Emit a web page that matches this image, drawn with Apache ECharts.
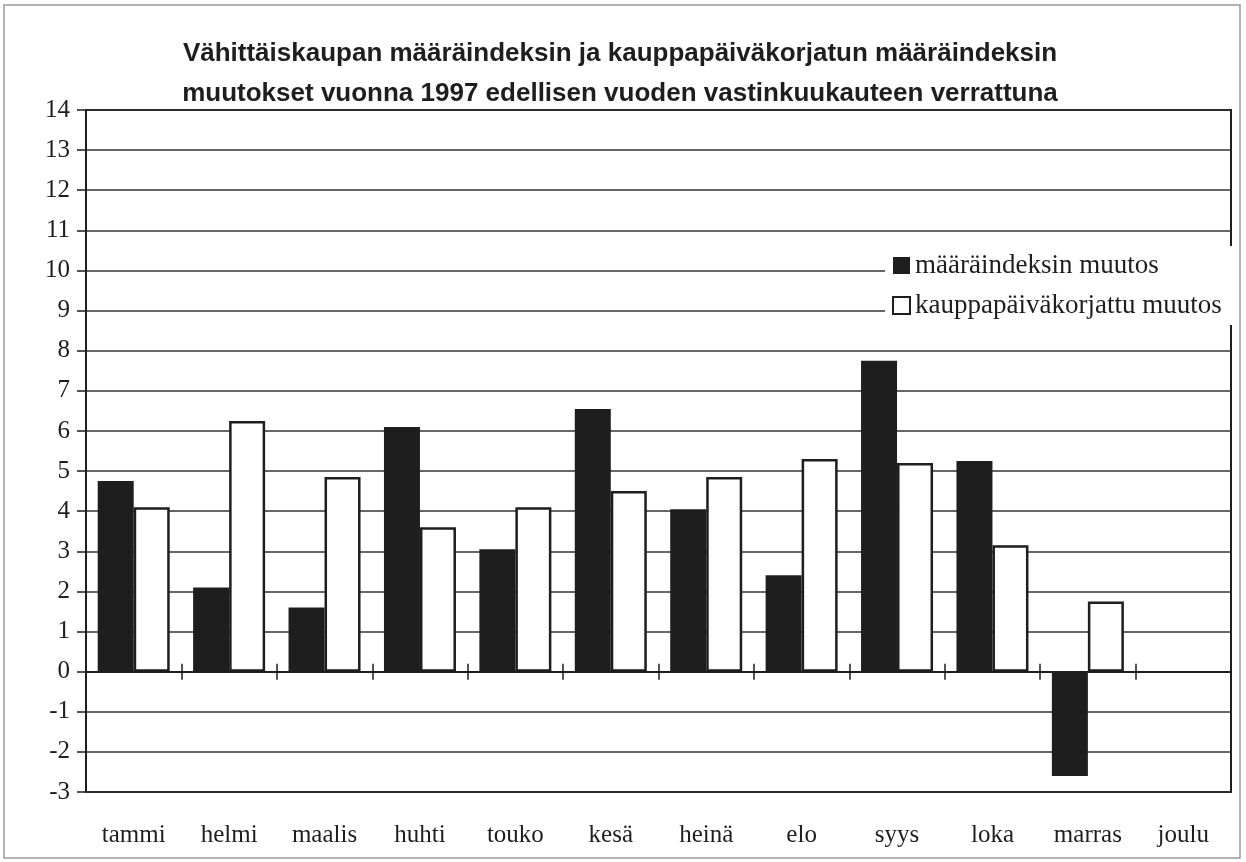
<!DOCTYPE html>
<html>
<head>
<meta charset="utf-8">
<script src="https://cdn.jsdelivr.net/npm/echarts@6/dist/echarts.min.js"></script>
<style>
html,body{margin:0;padding:0;background:#fff}
#main{width:1246px;height:862px}
</style>
</head>
<body>
<div id="main"></div>
<script>
// kuukaudet
var months = ['tammi','helmi','maalis','huhti','touko','kesä','heinä','elo','syys','loka','marras','joulu']
// määräindeksin muutos (%)
var volumeChange = [4.75, 2.1, 1.6, 6.1, 3.05, 6.55, 4.05, 2.4, 7.75, 5.25, -2.6, null]
// kauppapäiväkorjattu muutos (%)
var adjustedChange = [4.1, 6.25, 4.85, 3.6, 4.1, 4.5, 4.85, 5.3, 5.2, 3.15, 1.75, null]
var names = ['määräindeksin muutos', 'kauppapäiväkorjattu muutos']
var titleText = 'Vähittäiskaupan määräindeksin ja kauppapäiväkorjatun määräindeksin\nmuutokset vuonna 1997 edellisen vuoden vastinkuukauteen verrattuna'

var serif = '"Liberation Serif", "DejaVu Serif", serif'
var ink = '#1e1e1e'

var chart = echarts.init(document.getElementById('main'))

var option = {
    animation: false,
    backgroundColor: '#fff',
    title: {
        text: titleText,
        left: 615,
        textAlign: 'center',
        top: 29,
        textStyle: {
            fontFamily: '"Liberation Sans Narrow", "Liberation Sans", Arial, sans-serif',
            fontWeight: 'bold',
            fontSize: 26,
            lineHeight: 40,
            color: ink
        }
    },
    legend: {
        orient: 'vertical',
        left: 885,
        top: 246,
        padding: [6, 12, 6, 7],
        backgroundColor: '#fff',
        itemWidth: 17,
        itemHeight: 17,
        itemGap: 13,
        icon: 'rect',
        textStyle: { fontFamily: serif, fontSize: 27, color: ink, lineHeight: 27 },
        data: [
            { name: names[0], itemStyle: { color: ink, borderWidth: 0 } },
            { name: names[1], itemStyle: { color: '#fff', borderColor: ink, borderWidth: 2 } }
        ]
    },
    grid: {
        left: 86, right: 15, top: 110, bottom: 70,
        show: true,
        borderColor: ink,
        borderWidth: 2
    },
    xAxis: [
        {
            // alareunan kuukausinimet
            type: 'category',
            data: months,
            position: 'bottom',
            axisLine: { show: false, onZero: false },
            axisTick: { show: false },
            axisLabel: { fontFamily: serif, fontSize: 25, color: ink, margin: 31 }
        },
        {
            // nollaviiva, väkäset ylös
            type: 'category',
            data: months,
            position: 'bottom',
            axisLine: { show: true, onZero: true, onZeroAxisIndex: 0, lineStyle: { color: ink, width: 2 } },
            axisTick: { show: true, inside: true, length: 8, lineStyle: { color: ink, width: 1.5 } },
            axisLabel: { show: false }
        },
        {
            // nollaviiva, väkäset alas
            type: 'category',
            data: months,
            position: 'bottom',
            axisLine: { show: true, onZero: true, onZeroAxisIndex: 0, lineStyle: { color: ink, width: 2 } },
            axisTick: { show: true, length: 8, lineStyle: { color: ink, width: 1.5 } },
            axisLabel: { show: false }
        }
    ],
    yAxis: {
        type: 'value',
        min: -3,
        max: 14,
        interval: 1,
        axisLine: { show: true, lineStyle: { color: ink, width: 2 } },
        axisTick: { show: true, length: 9, lineStyle: { color: ink, width: 1.5 } },
        axisLabel: { fontFamily: serif, fontSize: 25, color: ink, margin: 16 },
        splitLine: { lineStyle: { color: '#333', width: 1.5 } }
    },
    series: [
        {
            name: names[0],
            type: 'bar',
            data: volumeChange,
            barWidth: 36,
            barGap: '0%',
            itemStyle: { color: ink }
        },
        {
            name: names[1],
            type: 'bar',
            data: adjustedChange,
            barWidth: 36,
            itemStyle: { color: '#fff', borderColor: ink, borderWidth: 2.5 }
        }
    ],
    graphic: [{
        type: 'rect',
        shape: { x: 4, y: 5, width: 1236, height: 853 },
        style: { fill: null, stroke: '#999', lineWidth: 1.5 },
        silent: true
    }]
}

chart.setOption(option)
</script>
</body>
</html>
